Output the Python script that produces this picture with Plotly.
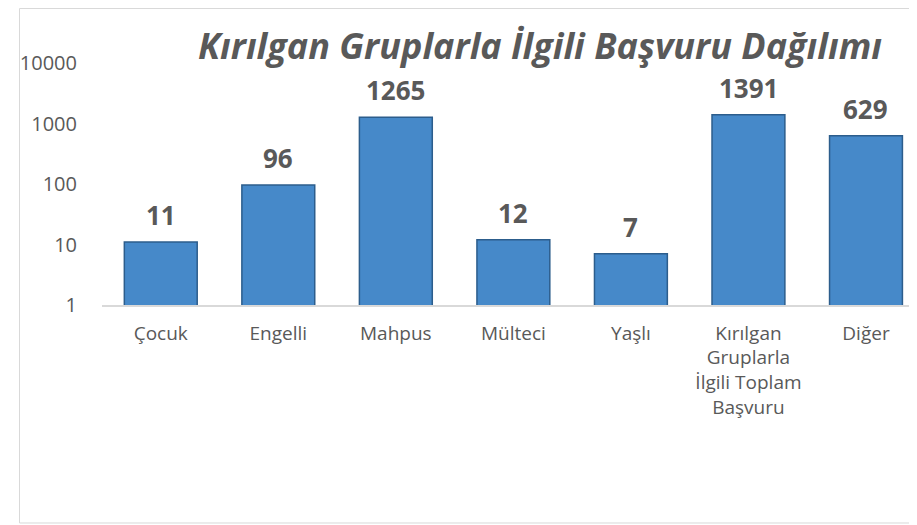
import math
import plotly.graph_objects as go

categories = ["Çocuk", "Engelli", "Mahpus", "Mülteci", "Yaşlı",
              "Kırılgan<br>Gruplarla<br>İlgili Toplam<br>Başvuru", "Diğer"]
values = [11, 96, 1265, 12, 7, 1391, 629]
y_ticks = [1, 10, 100, 1000, 10000]
title_text = "Kırılgan Gruplarla İlgili Başvuru Dağılımı"

GRAY = "#595959"

fig = go.Figure()

fig.add_trace(go.Bar(
    x=list(range(len(categories))),
    y=values,
    marker=dict(color="#4689C9", line=dict(color="#2C5D8C", width=1.5)),
    width=0.62,
    hoverinfo="y",
))

# veri etiketleri
for i, v in enumerate(values):
    fig.add_annotation(
        x=i, y=math.log10(v), text=f"<b>{v}</b>",
        showarrow=False, yanchor="bottom", yshift=8, borderpad=0,
        font=dict(family="Open Sans", size=26, color=GRAY),
    )

# başlık
fig.add_annotation(
    xref="paper", yref="paper", x=0.543, y=1.0, yshift=18,
    xanchor="center", yanchor="middle", borderpad=0,
    text=f"<b><i>{title_text}</i></b>", showarrow=False,
    font=dict(family="Open Sans", size=36, color=GRAY),
)

# grafik çerçevesi
fig.add_shape(type="rect", xref="paper", yref="paper",
              x0=-0.1022, x1=1.2, y0=-0.9008, y1=1.2252,
              line=dict(color="#D9D9D9", width=1), layer="below")

fig.update_layout(
    width=917, height=525,
    margin=dict(l=84, r=16, t=55, b=228),
    paper_bgcolor="white", plot_bgcolor="white",
    showlegend=False,
    font=dict(family="Open Sans", color=GRAY),
)

fig.update_xaxes(
    range=[-0.5, 6.366],
    tickvals=list(range(len(categories))), ticktext=categories,
    tickfont=dict(size=19, color=GRAY),
    showline=True, linecolor="#D9D9D9", linewidth=1.5,
    showgrid=False, ticks="", ticklabelstandoff=10,
)

fig.update_yaxes(
    type="log", range=[0, 4],
    tickvals=y_ticks, ticktext=[str(t) for t in y_ticks],
    tickfont=dict(size=20, color=GRAY),
    showgrid=False, zeroline=False, showline=False,
    ticks="", ticklabelstandoff=24,
)

fig.write_html("out.html")
